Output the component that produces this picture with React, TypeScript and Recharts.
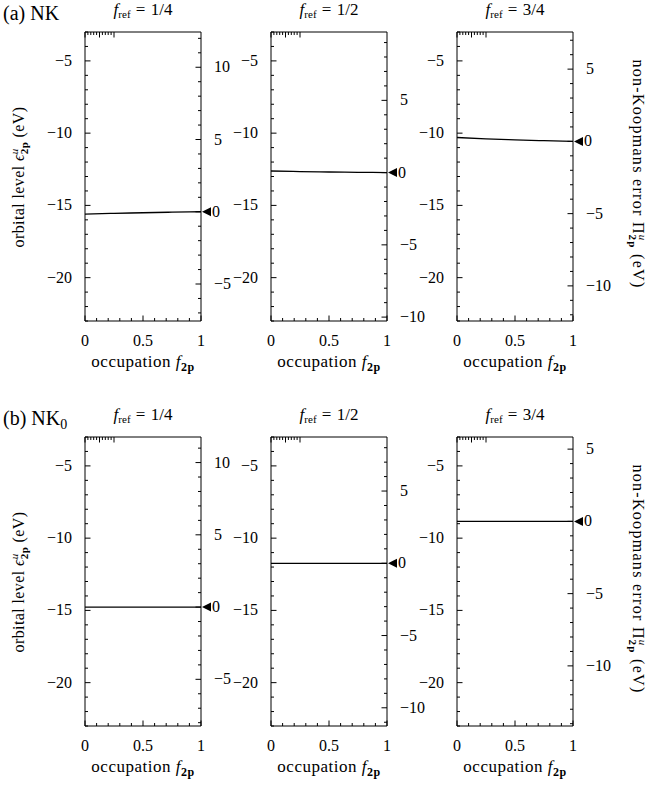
import React from 'react';
import { LineChart, Line, XAxis, YAxis } from 'recharts';

// ---------- data ----------
const occupation = [0, 0.25, 0.5, 0.75, 1];
const nkLevelRef14 = [-15.6, -15.55, -15.51, -15.47, -15.44];
const nkLevelRef12 = [-12.62, -12.66, -12.69, -12.71, -12.73];
const nkLevelRef34 = [-10.3, -10.39, -10.46, -10.52, -10.57];
const nk0LevelRef14 = [-14.77, -14.77, -14.77, -14.77, -14.77];
const nk0LevelRef12 = [-11.74, -11.74, -11.74, -11.74, -11.74];
const nk0LevelRef34 = [-8.84, -8.84, -8.84, -8.84, -8.84];

const refLabels = ['1/4', '1/2', '3/4'];
const xTicks = [0, 0.1, 0.2, 0.3, 0.4, 0.5, 0.6, 0.7, 0.8, 0.9, 1];
const xTickLabels = [0, 0.5, 1];
const levelDomain = [-23, -3];

const FONT = "'Liberation Serif', 'Times New Roman', serif";
const TICK_FS = 16;

const fmt = (v: number) => {
  const r = Math.round(v * 100) / 100;
  const s = String(Math.abs(r));
  return r < 0 ? '\u2212' + s : s;
};

const intRange = (lo: number, hi: number) => {
  const out: number[] = [];
  for (let v = Math.ceil(lo - 1e-9); v <= Math.floor(hi + 1e-9); v++) out.push(v);
  return out;
};

const isMajor5 = (v: number) => Math.abs(Math.round(v) % 5) === 0;

function LeftTick(props: any) {
  const { x, y, payload } = props;
  const v = payload.value;
  const major = isMajor5(v);
  return (
    <g>
      <line x1={x} x2={x + (major ? 5.5 : 3)} y1={y} y2={y} stroke="#000" strokeWidth={1} />
      {major && (
        <text x={x - 13} y={y} dy={5} textAnchor="end" fontFamily={FONT} fontSize={TICK_FS} fill="#000">
          {fmt(v)}
        </text>
      )}
    </g>
  );
}

function RightTick(props: any) {
  const { x, y, payload } = props;
  const v = Math.round(payload.value);
  const major = isMajor5(v);
  return (
    <g>
      <line x1={x} x2={x - (major ? 5.5 : 3)} y1={y} y2={y} stroke="#000" strokeWidth={1} />
      {v === 0 && (
        <polygon points={`${x + 1},${y} ${x + 10},${y - 4.5} ${x + 10},${y + 4.5}`} fill="#000" />
      )}
      {major && (
        <text x={x + (v === 0 ? 11 : 13)} y={y} dy={5} textAnchor="start" fontFamily={FONT} fontSize={TICK_FS} fill="#000">
          {fmt(v)}
        </text>
      )}
    </g>
  );
}

function BottomTick(props: any) {
  const { x, y, payload } = props;
  const v = payload.value;
  const major = xTickLabels.some((t) => Math.abs(t - v) < 1e-9);
  return (
    <g>
      <line x1={x} x2={x} y1={y} y2={y - (major ? 5.5 : 3)} stroke="#000" strokeWidth={1} />
      {major && (
        <text x={x} y={y + 25} textAnchor="middle" fontFamily={FONT} fontSize={TICK_FS} fill="#000">
          {fmt(v)}
        </text>
      )}
    </g>
  );
}

function TopTick(props: any) {
  const { x, y, payload } = props;
  const v = payload.value;
  const major = xTickLabels.some((t) => Math.abs(t - v) < 1e-9);
  return <line x1={x} x2={x} y1={y} y2={y + (major ? 5.5 : 3)} stroke="#000" strokeWidth={1} />;
}

const PLOT_W = 116;
const PLOT_H = 289;
const AX_W = 50;
const TOP_H = 5;
const BOT_H = 50;

function Panel({ left, top, values }: { left: number; top: number; values: number[] }) {
  const data = occupation.map((f, i) => ({ f, level: values[i] }));
  const offset = -values[values.length - 1];
  const rightDomain = [levelDomain[0] + offset, levelDomain[1] + offset];
  const leftTicks = intRange(levelDomain[0], levelDomain[1]);
  const rightTicks = intRange(rightDomain[0], rightDomain[1]);
  return (
    <div style={{ position: 'absolute', left: left - AX_W, top: top - TOP_H }}>
      <LineChart
        width={PLOT_W + 2 * AX_W}
        height={PLOT_H + TOP_H + BOT_H}
        data={data}
        margin={{ top: 0, right: 0, bottom: 0, left: 0 }}
      >
        <XAxis
          xAxisId="bottom"
          dataKey="f"
          type="number"
          orientation="bottom"
          domain={[0, 1]}
          allowDataOverflow
          ticks={xTicks}
          interval={0}
          height={BOT_H}
          tickSize={0}
          tickMargin={0}
          tickLine={false}
          axisLine={{ stroke: '#000', strokeWidth: 1 }}
          tick={(p: any) => <BottomTick {...p} />}
        />
        <XAxis
          xAxisId="top"
          type="number"
          orientation="top"
          domain={[0, 1]}
          allowDataOverflow
          ticks={xTicks}
          interval={0}
          height={TOP_H}
          tickSize={0}
          tickMargin={0}
          tickLine={false}
          axisLine={{ stroke: '#000', strokeWidth: 1 }}
          tick={(p: any) => <TopTick {...p} />}
        />
        <YAxis
          yAxisId="left"
          type="number"
          orientation="left"
          domain={levelDomain}
          allowDataOverflow
          ticks={leftTicks}
          interval={0}
          width={AX_W}
          tickSize={0}
          tickMargin={0}
          tickLine={false}
          axisLine={{ stroke: '#000', strokeWidth: 1 }}
          tick={(p: any) => <LeftTick {...p} />}
        />
        <YAxis
          yAxisId="right"
          type="number"
          orientation="right"
          domain={rightDomain}
          allowDataOverflow
          ticks={rightTicks}
          interval={0}
          width={AX_W}
          tickSize={0}
          tickMargin={0}
          tickLine={false}
          axisLine={{ stroke: '#000', strokeWidth: 1 }}
          tick={(p: any) => <RightTick {...p} />}
        />
        <Line
          xAxisId="bottom"
          yAxisId="left"
          dataKey="level"
          type="monotone"
          stroke="#000"
          strokeWidth={1.3}
          dot={false}
          activeDot={false}
          isAnimationActive={false}
        />
      </LineChart>
    </div>
  );
}

const COL_LEFT = [85, 271, 457];
const ROW_TOP = [32, 437];
const ROW_DY = ROW_TOP[1] - ROW_TOP[0];

const rows = [
  { tag: '(a) NK', sub: '', series: [nkLevelRef14, nkLevelRef12, nkLevelRef34] },
  { tag: '(b) NK', sub: '0', series: [nk0LevelRef14, nk0LevelRef12, nk0LevelRef34] },
];

export default function App() {
  return (
    <div style={{ position: 'absolute', left: 0, top: 0, width: 648, height: 790, background: '#fff' }}>
      {rows.map((row, r) =>
        row.series.map((vals, c) => (
          <Panel key={`${r}-${c}`} left={COL_LEFT[c]} top={ROW_TOP[r]} values={vals} />
        ))
      )}
      <svg
        width={648}
        height={790}
        style={{ position: 'absolute', left: 0, top: 0, pointerEvents: 'none' }}
        fontFamily={FONT}
        fill="#000"
      >
        {rows.map((row, r) => {
          const dy = r * ROW_DY;
          return (
            <g key={r}>
              <text x={3} y={20 + dy} fontSize={20}>
                {row.tag}
                {row.sub && (
                  <tspan fontSize={14} dy={4}>
                    {row.sub}
                  </tspan>
                )}
              </text>
              {refLabels.map((lab, c) => {
                const cx = COL_LEFT[c] + PLOT_W / 2;
                return (
                  <g key={c}>
                    <text x={cx} y={15 + dy} fontSize={17} textAnchor="middle">
                      <tspan fontStyle="italic">f</tspan>
                      <tspan fontSize={11} dy={3}>ref</tspan>
                      <tspan dy={-3} dx={1}>{' = '}</tspan>
                      <tspan dx={1}>{lab}</tspan>
                    </text>
                    <text x={cx} y={367 + dy} fontSize={17} letterSpacing={0.5} textAnchor="middle">
                      occupation{' '}
                      <tspan fontStyle="italic">f</tspan>
                      <tspan fontSize={12} dy={4} fontWeight="bold">2p</tspan>
                    </text>
                  </g>
                );
              })}
              <text transform={`translate(24, ${177 + dy}) rotate(-90)`} fontSize={16} letterSpacing={0.4} textAnchor="middle">
                orbital level <tspan fontStyle="italic">ϵ</tspan>
                <tspan fontSize={11} dy={-6} fontStyle="italic">u</tspan>
                <tspan fontSize={11} dx={-6} dy={10} fontWeight="bold">2p</tspan>
                <tspan dy={-4}> (eV)</tspan>
              </text>
              <text transform={`translate(633, ${174 + dy}) rotate(90)`} fontSize={16} letterSpacing={1.3} textAnchor="middle">
                non-Koopmans error Π
                <tspan fontSize={11} dy={-6} fontStyle="italic">u</tspan>
                <tspan fontSize={11} dx={-7} dy={10} fontWeight="bold">2p</tspan>
                <tspan dy={-4}> (eV)</tspan>
              </text>
            </g>
          );
        })}
      </svg>
    </div>
  );
}
